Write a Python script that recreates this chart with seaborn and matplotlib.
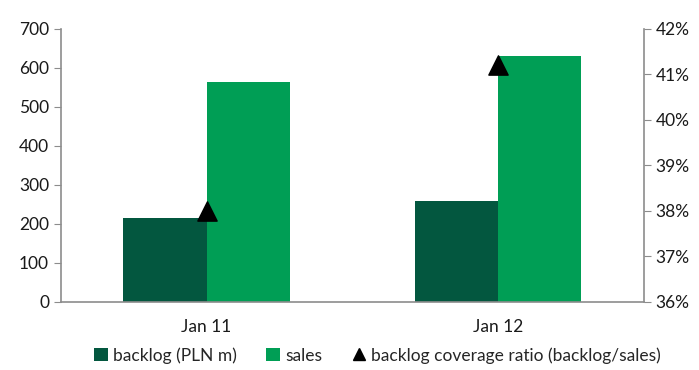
import pandas as pd
import matplotlib.pyplot as plt
import seaborn as sns
from matplotlib.lines import Line2D
from matplotlib.patches import Patch
from matplotlib.ticker import FuncFormatter, FixedLocator

# Datos
periods = ["Jan 11", "Jan 12"]
backlog = [215, 259]
sales = [564, 631]
coverage = [38.0, 41.2]  # %

dark = "#03573F"
light = "#009E55"

df = pd.DataFrame({
    "period": periods * 2,
    "serie": ["backlog (PLN m)"] * 2 + ["sales"] * 2,
    "valor": backlog + sales,
})

sns.set_style("white")
plt.rcParams["font.family"] = ["Lato", "DejaVu Sans"]

fig, ax = plt.subplots(figsize=(6.99, 3.70), dpi=100)
fig.subplots_adjust(left=0.087, right=0.921, top=0.922, bottom=0.184)

sns.barplot(data=df, x="period", y="valor", hue="serie", palette=[dark, light],
            width=0.57, gap=0, saturation=1, ax=ax, legend=False)
for p in ax.patches:
    p.set_edgecolor("none")

ax.set_xlim(-0.5, 1.5)
ax.set_ylim(0, 700)
ax.set_yticks(range(0, 701, 100))
ax.set_xlabel("")
ax.set_ylabel("")

# Eje secundario para el ratio
ax2 = ax.twinx()
sns.scatterplot(x=[0, 1], y=coverage, marker="^", s=190, color="black",
                edgecolor="black", ax=ax2, legend=False, zorder=5)
ax2.set_ylim(36, 42)
ax2.set_yticks(range(36, 43))
ax2.yaxis.set_major_formatter(FuncFormatter(lambda v, _: f"{v:.0f}%"))

grey = "#8C8C8C"
for a in (ax, ax2):
    for s in a.spines.values():
        s.set_visible(False)
ax.spines["left"].set_visible(True)
ax.spines["bottom"].set_visible(True)
ax2.spines["right"].set_visible(True)
for s in (ax.spines["left"], ax.spines["bottom"], ax2.spines["right"]):
    s.set_color(grey)
    s.set_linewidth(1.2)

fs = 12.5
ax.tick_params(axis="y", direction="out", length=5, colors=grey, labelcolor="#1a1a1a", labelsize=fs)
ax2.tick_params(axis="y", direction="out", length=5, color=grey, labelsize=fs, labelcolor="#1a1a1a")
ax.tick_params(axis="x", which="major", length=0, labelsize=fs, labelcolor="#1a1a1a", pad=12)
ax.xaxis.set_minor_locator(FixedLocator([-0.5, 0.5, 1.5]))
ax.tick_params(axis="x", which="minor", direction="out", length=5, color=grey)

handles = [
    Patch(facecolor=dark, edgecolor="none", label="backlog (PLN m)"),
    Patch(facecolor=light, edgecolor="none", label="sales"),
    Line2D([], [], marker="^", color="black", linestyle="none", markersize=9,
           label="backlog coverage ratio (backlog/sales)"),
]
fig.legend(handles=handles, loc="lower center", bbox_to_anchor=(0.54, -0.025), ncol=3,
           frameon=False, fontsize=fs, handlelength=0.8, handleheight=0.8,
           handletextpad=0.3, columnspacing=1.7)

plt.savefig("out.png", dpi=100)
